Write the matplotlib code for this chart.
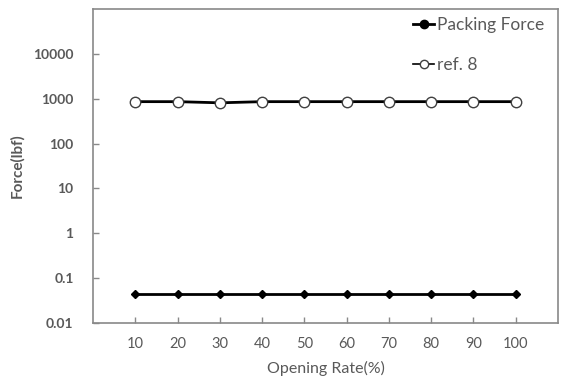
import matplotlib
matplotlib.use("Agg")
import matplotlib.pyplot as plt
from matplotlib.lines import Line2D

plt.rcParams["font.family"] = ["Lato", "DejaVu Sans"]

opening_rate = [10, 20, 30, 40, 50, 60, 70, 80, 90, 100]
packing_force = [0.045] * 10
ref8 = [860, 860, 810, 860, 860, 860, 860, 860, 860, 860]
y_ticks = [0.01, 0.1, 1, 10, 100, 1000, 10000]
y_labels = ["0.01", "0.1", "1", "10", "100", "1000", "10000"]

GRAY = "#595959"
AXIS = "#898989"

fig = plt.figure(figsize=(5.61, 3.80), dpi=100)
ax = fig.add_axes([93 / 561, 1 - 323 / 380, 465 / 561, 314 / 380])

ax.plot(opening_rate, packing_force, color="black", lw=2.0, marker="D",
        ms=4.5, mfc="black", mec="black")
ax.plot(opening_rate, ref8, color="black", lw=2.0, marker="o",
        ms=7.5, mfc="white", mec="#404040", mew=1.0)

ax.set_yscale("log")
ax.set_ylim(0.01, 100000)
ax.set_xlim(0, 110)
ax.set_xticks(opening_rate)
ax.set_xticklabels([str(v) for v in opening_rate], color=GRAY, fontsize=10.5)
ax.set_yticks(y_ticks)
ax.set_yticklabels(y_labels, color=GRAY, fontsize=10, fontweight="bold")
ax.minorticks_off()
ax.tick_params(axis="both", direction="in", length=4, color=AXIS, width=1)
ax.tick_params(axis="x", pad=10)
ax.tick_params(axis="y", pad=14)
for s in ax.spines.values():
    s.set_color(AXIS)
    s.set_linewidth(1.2)

ax.set_xlabel("Opening Rate(%)", color=GRAY, fontsize=11.5, labelpad=7)
ax.set_ylabel("Force(lbf)", color=GRAY, fontsize=11, fontweight="bold", labelpad=6)

handles = [
    Line2D([], [], color="black", lw=2, marker="o", ms=6, mfc="black", mec="black"),
    Line2D([], [], color="black", lw=1.2, marker="o", ms=6, mfc="white", mec="#404040"),
]
ax.legend(handles, ["Packing Force", "ref. 8"], loc="upper left", frameon=False,
          handlelength=1.2, handletextpad=0.15, labelspacing=1.4, fontsize=12.5,
          labelcolor=GRAY, bbox_to_anchor=(0.655, 1.025))

fig.savefig("out.png", dpi=100)
